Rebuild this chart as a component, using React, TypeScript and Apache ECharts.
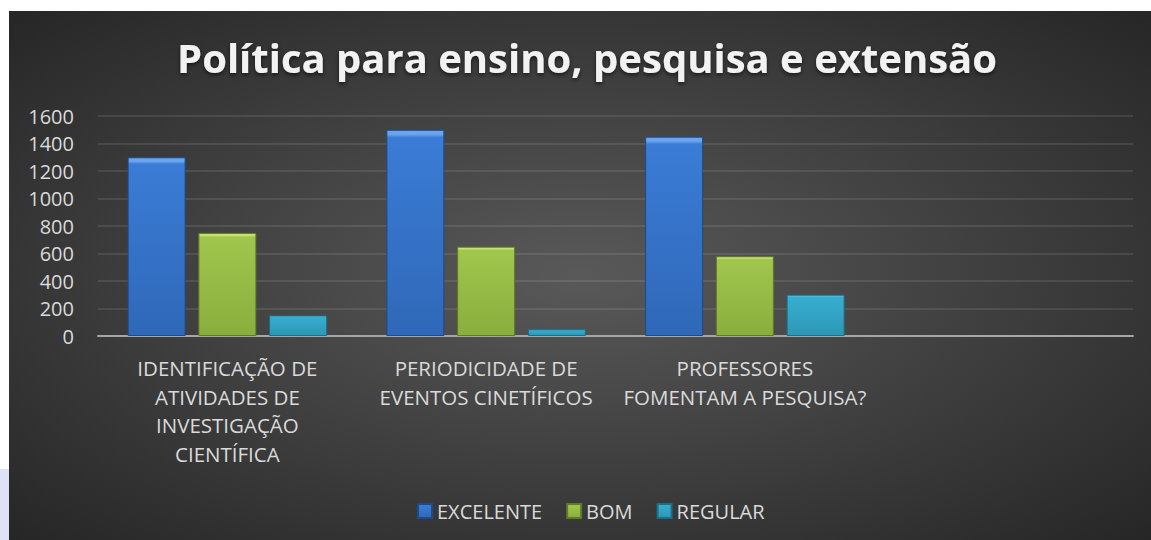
import React, { useEffect, useRef } from "react";
import * as echarts from "echarts";

const titleText = "Política para ensino, pesquisa e extensão";
const categories = [
  "IDENTIFICAÇÃO DE\nATIVIDADES DE\nINVESTIGAÇÃO\nCIENTÍFICA",
  "PERIODICIDADE DE\nEVENTOS CINETÍFICOS",
  "PROFESSORES\nFOMENTAM A PESQUISA?",
  "",
];
const seriesNames = ["EXCELENTE", "BOM", "REGULAR"];
const excelente = [1300, 1500, 1450, null];
const bom = [750, 650, 580, null];
const regular = [150, 50, 300, null];
const yTicks = { min: 0, max: 1600, interval: 200 };

const FONT = "'Open Sans', 'Noto Sans', sans-serif";
const TXT = "#dadada";

function barFill(top: string, main: string, bottom: string) {
  return new echarts.graphic.LinearGradient(0, 0, 0, 1, [
    { offset: 0, color: top },
    { offset: 0.02, color: top },
    { offset: 0.035, color: main },
    { offset: 1, color: bottom },
  ]);
}

export default function App() {
  const ref = useRef<HTMLDivElement>(null);
  useEffect(() => {
    if (!ref.current) return;
    const chart = echarts.init(ref.current, undefined, { renderer: "svg" });
    const styles = [
      { top: "#6aa5ee", main: "#3b7cd6", bottom: "#2f68b8", border: "#1d4a88" },
      { top: "#c6e270", main: "#a1c64e", bottom: "#8aae3c", border: "#5f7a26" },
      { top: "#74dcf4", main: "#38aed0", bottom: "#2c97b6", border: "#1c6f86" },
    ];
    const data = [excelente, bom, regular];
    chart.setOption({
      animation: false,
      backgroundColor: "#ffffff",
      textStyle: { fontFamily: FONT },
      graphic: [
        {
          type: "rect",
          z: -100,
          silent: true,
          shape: { x: 9, y: 11, width: 1142, height: 529 },
          style: {
            fill: new echarts.graphic.RadialGradient(0.5, 0.5, 0.75, [
              { offset: 0, color: "#595959" },
              { offset: 1, color: "#232323" },
            ]),
          },
        },
        {
          type: "rect",
          z: -100,
          silent: true,
          shape: { x: 0, y: 469, width: 9, height: 71 },
          style: { fill: "#dfe2f6" },
        },
      ],
      title: {
        text: titleText,
        left: 582,
        textAlign: "center",
        top: 32,
        textStyle: {
          fontFamily: FONT,
          fontWeight: "bold",
          fontSize: 40,
          color: "#f2f2f2",
          textShadowColor: "rgba(0,0,0,0.6)",
          textShadowBlur: 4,
          textShadowOffsetY: 2,
        },
      },
      legend: {
        data: seriesNames,
        left: 412,
        top: 496,
        itemWidth: 14,
        itemHeight: 14,
        itemGap: 24,
        icon: "rect",
        textStyle: { color: TXT, fontSize: 20, fontFamily: FONT },
      },
      grid: { left: 98, right: 18, top: 116, bottom: 204, containLabel: false },
      xAxis: {
        type: "category",
        data: categories,
        axisTick: { show: false },
        axisLine: { lineStyle: { color: "#a6a6a6", width: 2 } },
        axisLabel: {
          interval: 0,
          color: TXT,
          fontSize: 20.5,
          lineHeight: 28.5,
          margin: 18,
          fontFamily: FONT,
        },
      },
      yAxis: {
        type: "value",
        min: yTicks.min,
        max: yTicks.max,
        interval: yTicks.interval,
        axisLine: { show: false },
        axisTick: { show: false },
        axisLabel: {
          color: TXT,
          fontSize: 20,
          margin: 24,
          fontFamily: FONT,
          formatter: (v: number) => String(v),
        },
        splitLine: { lineStyle: { color: "rgba(255,255,255,0.13)", width: 1.5 } },
      },
      series: seriesNames.map((name, i) => ({
        name,
        type: "bar",
        data: data[i],
        barWidth: 58,
        barGap: "22%",
        itemStyle: {
          color: barFill(styles[i].top, styles[i].main, styles[i].bottom),
          borderColor: styles[i].border,
          borderWidth: 1,
        },
      })),
    });
    return () => chart.dispose();
  }, []);
  return (
    <div
      ref={ref}
      style={{ position: "fixed", left: 0, top: 0, width: 1151, height: 540 }}
    />
  );
}
